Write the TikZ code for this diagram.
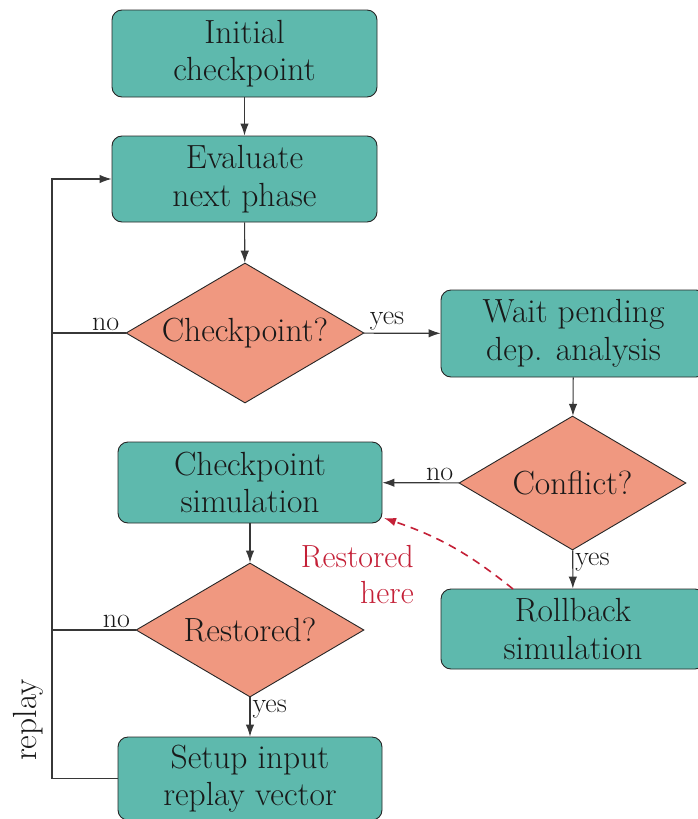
\documentclass[tikz,border=0pt]{standalone}
\usepackage{fontspec}
\usetikzlibrary{shapes.geometric,arrows.meta}
\definecolor{boxteal}{RGB}{94,185,173}
\definecolor{diasalmon}{RGB}{240,152,128}
\definecolor{restred}{RGB}{196,32,55}
\definecolor{linegray}{RGB}{55,55,55}
\tikzset{
  stepbox/.style={draw=black!85, line width=0.9pt, fill=boxteal, rounded corners=10pt,
    minimum width=265pt, align=center, inner sep=0pt,
    font=\fontsize{33.5}{37.5}\selectfont, text=black!90},
  decision/.style={draw=black!85, line width=0.9pt, fill=diasalmon, diamond, aspect=1.7,
    inner sep=0pt, font=\fontsize{33.5}{37.5}\selectfont, text=black!90},
  arr/.style={draw=linegray, line width=1.1pt, -{Latex[length=12pt,width=8.5pt]}},
  plain/.style={draw=linegray, line width=1.1pt},
  lbl/.style={font=\fontsize{28}{32}\selectfont, text=black!90, inner sep=2pt},
}
\begin{document}
\begin{tikzpicture}[x=1pt,y=-1pt]
\useasboundingbox (0,0) rectangle (697,819);
\node[stepbox, minimum height=87pt] (init) at (244.5,53.5) {Initial\\checkpoint};
\node[stepbox, minimum height=86pt] (eval) at (244.5,179) {Evaluate\\next phase};
\node[decision, minimum width=238pt, minimum height=140pt] (chk) at (245,333) {Checkpoint?};
\node[stepbox, minimum height=87pt] (wait) at (573.5,333.5) {Wait pending\\dep. analysis};
\node[decision, minimum width=227pt, minimum height=134pt] (conf) at (572.5,483) {Conflict?};
\node[stepbox, minimum width=264pt, minimum height=81pt] (csim) at (250,482.5) {Checkpoint\\simulation};
\node[stepbox, minimum width=264pt, minimum height=80pt] (roll) at (573,629) {Rollback\\simulation};
\node[decision, minimum width=228pt, minimum height=134pt] (rest) at (250,630) {Restored?};
\node[stepbox, minimum width=264pt, minimum height=83pt] (setup) at (250,778.5) {Setup input\\replay vector};

\coordinate (l1) at (52,333);
\coordinate (l2) at (52,630);
\coordinate (ltop) at (52,179);
\coordinate (lbot) at (52,778.5);

\draw[arr] (init) -- (eval);
\draw[arr] (eval) -- (chk);
\draw[arr] (chk) -- node[lbl, above, pos=0.3] {yes} (wait);
\draw[arr] (wait) -- (conf);
\draw[arr] (conf) -- node[lbl, above, pos=0.25] {no} (csim);
\draw[arr] (conf) -- node[lbl, right, pos=0.3] {yes} (roll);
\draw[arr] (csim) -- (rest);
\draw[arr] (rest) -- node[lbl, right, pos=0.3] {yes} (setup);
\draw[plain] (chk.west) -- node[lbl, above, pos=0.27] {no} (l1);
\draw[plain] (rest.west) -- node[lbl, above, pos=0.23] {no} (l2);
\draw[arr] (setup.west) -- (lbot) -- (ltop) -- (eval.west);

\node[rotate=90, font=\fontsize{33.5}{37.5}\selectfont, text=black!90, inner sep=0pt] (rl) at (28,720) {replay};

\coordinate (rs) at (513,589);
\coordinate (re) at (384,518);
\draw[restred, line width=1.6pt, dash pattern=on 8pt off 6pt, -{Latex[length=12pt,width=8.5pt]}] (rs) to[bend right=10] (re);
\node[anchor=east, align=right, text=restred, font=\fontsize{32}{36}\selectfont, inner sep=0pt] (rh) at (414,575) {Restored\\here};
\end{tikzpicture}
\end{document}
